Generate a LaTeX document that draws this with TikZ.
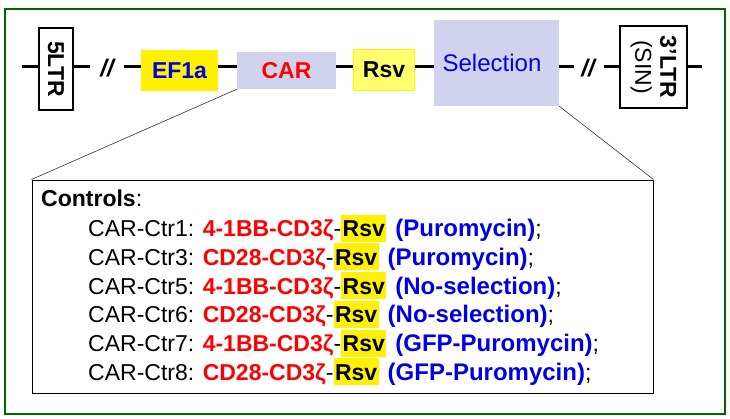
\documentclass[tikz,border=0pt]{standalone}
\usepackage{fontspec}
\setmainfont{Liberation Sans}
\definecolor{frameg}{RGB}{0,102,0}
\definecolor{lav}{RGB}{208,210,238}
\definecolor{lyel}{RGB}{255,255,110}
\definecolor{hblue}{RGB}{0,0,230}
\newcommand{\hl}[1]{{\setlength{\fboxsep}{0pt}\colorbox{yellow}{\hspace{1.5pt}\rule[-5pt]{0pt}{27pt}#1\hspace{1.5pt}}}}
\newcommand{\ctrline}[3]{CAR-Ctr#1: \textcolor{red}{\bfseries #2}-\hl{\bfseries Rsv}\hspace{9pt}\textcolor{hblue}{\fontsize{24}{26}\selectfont\bfseries (#3)};}
\begin{document}
\begin{tikzpicture}[x=1pt,y=-1pt,
  backbone/.style={line width=3pt},
  ltrbox/.style={draw,line width=2pt,fill=white,inner sep=0pt},
  callout/.style={line width=0.6pt,draw=black!80},
  lst/.style={anchor=base west,inner sep=0pt,font=\fontsize{23}{26}\selectfont}
]
\useasboundingbox (0,0) rectangle (730,418);
\draw[frameg,line width=2.2pt] (5,9) rectangle (725,414);

% backbone coordinates
\coordinate (b0) at (22,66);
\coordinate (b1) at (90,66);
\coordinate (b2) at (124,66);
\coordinate (b3) at (558,66);
\coordinate (b4) at (574,66);
\coordinate (b5) at (604,66);
\coordinate (b6) at (702,66);
\draw[backbone] (b0) -- (b1);
\draw[backbone] (b2) -- (b3);
\draw[backbone] (b3) -- (b4);
\draw[backbone] (b5) -- (b6);

% 5LTR
\node[ltrbox,minimum width=34pt,minimum height=82pt] (ltr5) at (56,69) {};
\node[rotate=-90,font=\fontsize{23}{25}\selectfont\bfseries] (ltr5t) at (ltr5.center) {5LTR};
% slashes
\node[font=\fontsize{24}{26}\selectfont\bfseries\itshape] (sl1) at (107,68) {//};
\node[font=\fontsize{24}{26}\selectfont\bfseries\itshape] (sl2) at (588,68) {//};
% EF1a
\node[fill=yellow,minimum width=77pt,minimum height=41pt,inner sep=0pt,
  font=\fontsize{23}{25}\selectfont\bfseries,text=hblue] (ef) at (179.5,70.5) {EF1a};
% CAR
\node[fill=lav,minimum width=99pt,minimum height=37pt,inner sep=0pt,
  font=\fontsize{23}{25}\selectfont\bfseries,text=red] (car) at (286.5,70.5) {CAR};
% Rsv
\node[fill=lyel,draw=yellow,line width=0.8pt,minimum width=61pt,minimum height=41pt,inner sep=0pt,
  font=\fontsize{23}{25}\selectfont\bfseries] (rsv) at (384,69.5) {Rsv};
% Selection
\node[fill=lav,minimum width=125pt,minimum height=86pt,inner sep=0pt] (sel) at (496.5,63) {};
\node[font=\fontsize{24}{26}\selectfont,text=hblue!80!blue,anchor=center] (selt) at (492,63) {Selection};
% 3'LTR
\node[ltrbox,minimum width=67pt,minimum height=82pt] (ltr3) at (653.5,67) {};
\node[rotate=-90,align=center,font=\fontsize{23}{25}\selectfont] (ltr3t) at (ltr3.center)
  {\textbf{3'LTR}\\(SIN)};

% controls box
\node[draw,line width=1pt,minimum width=621pt,minimum height=213pt,inner sep=0pt] (ctl) at (342.5,286.5) {};
\draw[callout] (car.south west) -- (ctl.north west);
\draw[callout] (sel.south east) -- (ctl.north east);

\node[lst] (h) at (41,206.7) {\textbf{Controls}:};
\node[lst] (c1) at (88,236.7) {\ctrline{1}{4-1BB-CD3ζ}{Puromycin}};
\node[lst] (c3) at (88,265.4) {\ctrline{3}{CD28-CD3ζ}{Puromycin}};
\node[lst] (c5) at (88,294.1) {\ctrline{5}{4-1BB-CD3ζ}{No-selection}};
\node[lst] (c6) at (88,322.8) {\ctrline{6}{CD28-CD3ζ}{No-selection}};
\node[lst] (c7) at (88,351.5) {\ctrline{7}{4-1BB-CD3ζ}{GFP-Puromycin}};
\node[lst] (c8) at (88,380.2) {\ctrline{8}{CD28-CD3ζ}{GFP-Puromycin}};
\end{tikzpicture}
\end{document}
